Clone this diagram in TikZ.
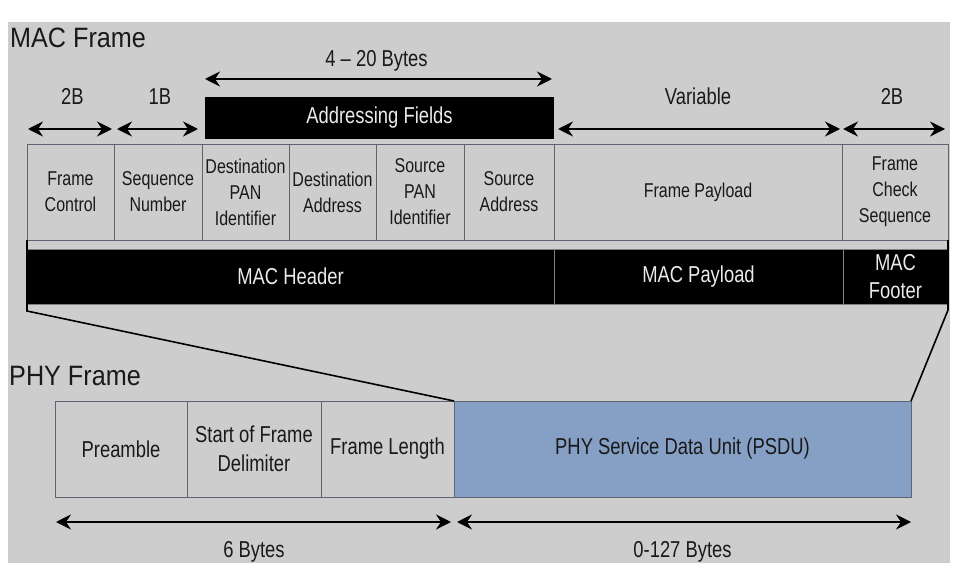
\documentclass[tikz,border=0pt]{standalone}
\usepackage{fontspec}
\setmainfont{Liberation Sans}
\newfontfamily\condfont[FakeStretch=0.8]{Liberation Sans}
\newfontfamily\titlefont[FakeStretch=0.9]{Liberation Sans}
\usetikzlibrary{calc,arrows.meta,positioning}

\definecolor{bggray}{RGB}{205,205,205}
\definecolor{cellline}{RGB}{95,100,115}
\definecolor{psdublue}{RGB}{134,160,197}
\definecolor{txtgray}{RGB}{25,25,25}

\begin{document}
\begin{tikzpicture}[x=1pt,y=1pt,yscale=-1,xscale=1,
  cell/.style = {draw=cellline, line width=0.9pt, inner sep=0pt, outer sep=0pt,
    minimum height=96pt, align=center, text=txtgray},
  mac/.style = {cell, font=\condfont\fontsize{20}{26}\selectfont},
  phy/.style = {cell, font=\condfont\fontsize{23}{29}\selectfont},
  bar/.style = {fill=black, draw=gray, line width=0.8pt, inner sep=0pt,
    outer sep=0pt, minimum height=55pt, align=center, text=white!92!black,
    font=\condfont\fontsize{23}{28}\selectfont},
  dim/.style = {{Stealth[length=15pt,width=15pt,inset=5pt]}-{Stealth[length=15pt,width=15pt,inset=5pt]},
    line width=2.2pt},
  lbl/.style = {text=txtgray, font=\condfont\fontsize{23}{28}\selectfont,
    inner sep=0pt, anchor=base},
  title/.style = {text=txtgray, font=\titlefont\fontsize{28}{32}\selectfont,
    inner sep=0pt, anchor=base west},
  zoomline/.style = {draw=black, line width=1.6pt}]

  \useasboundingbox (0,0) rectangle (961,572);
  \fill[bggray] (8,22) rectangle (950,563);

  % MAC frame fields
  \node[title] (mactitle) at (10,48) {MAC Frame};
  \node[mac, minimum width=87pt, anchor=north west] (fc) at (27,144) {Frame\\Control};
  \node[mac, minimum width=88pt, right=0pt of fc] (sn) {Sequence\\Number};
  \node[mac, minimum width=87pt, right=0pt of sn] (dp) {Destination\\PAN\\Identifier};
  \node[mac, minimum width=87pt, right=0pt of dp] (da) {Destination\\Address};
  \node[mac, minimum width=88pt, right=0pt of da] (sp) {Source\\PAN\\Identifier};
  \node[mac, minimum width=90pt, right=0pt of sp] (sa) {Source\\Address};
  \node[mac, minimum width=288pt, right=0pt of sa] (fp) {Frame Payload};
  \node[mac, minimum width=106pt, right=0pt of fp] (fcs) {Frame\\Check\\Sequence};

  \node[bar, draw=none, minimum height=42pt, minimum width=349pt, anchor=south west]
    (addr) at ($(dp.north west)+(3,-5)$) {Addressing Fields};

  % header / payload / footer
  \node[bar, minimum width=527pt, anchor=north west] (hdr) at (27,249) {MAC Header};
  \node[bar, minimum width=289pt, right=0pt of hdr] (pay) {MAC Payload};
  \node[bar, minimum width=105pt, right=0pt of pay] (foot) {MAC\\Footer};

  % sizes above the MAC frame
  \draw[dim] ($(fc.north west)+(1,-15)$) -- ($(fc.north east)+(-2,-15)$);
  \draw[dim] ($(sn.north west)+(3,-15)$) -- ($(sn.north east)+(-4,-15)$);
  \draw[dim] ($(addr.north west)+(0,-18)$) -- ($(addr.north east)+(-2,-18)$);
  \draw[dim] ($(fp.north west)+(4,-15)$) -- ($(fp.north east)+(-2,-15)$);
  \draw[dim] ($(fcs.north west)+(1,-15)$) -- ($(fcs.north east)+(-3,-15)$);
  \node[lbl] (l2b) at ($(fc.north)+(2,-39)$) {2B};
  \node[lbl] (l1b) at ($(sn.north)+(2,-39)$) {1B};
  \node[lbl] (laddr) at ($(addr.north)+(-3,-30)$) {4 – 20 Bytes};
  \node[lbl] (lvar) at ($(fp.north)+(0,-39)$) {Variable};
  \node[lbl] (lfcs) at ($(fcs.north)+(-3,-39)$) {2B};

  % PHY frame
  \node[title] (phytitle) at (9,385) {PHY Frame};
  \node[phy, minimum width=132pt, anchor=north west] (pre) at (55,401) {Preamble};
  \node[phy, minimum width=134pt, right=0pt of pre] (sfd) {Start of Frame\\Delimiter};
  \node[phy, minimum width=133pt, right=0pt of sfd] (flen) {Frame Length};
  \node[phy, fill=psdublue, minimum width=457pt, right=0pt of flen] (psdu) {PHY Service Data Unit (PSDU)};

  % MAC frame goes into the PSDU
  \draw[zoomline] (fc.south west) -- ($(hdr.south west)+(0,7)$) -- (psdu.north west);
  \draw[zoomline] (fcs.south east) -- ($(foot.south east)+(0,6)$) -- (psdu.north east);

  \draw[dim] ($(pre.south west)+(1,25)$) -- ($(flen.south east)+(-3,25)$);
  \draw[dim] ($(psdu.south west)+(3,25)$) -- ($(psdu.south east)+(0,25)$);
  \node[lbl] (l6) at ($(sfd.south)+(0,60)$) {6 Bytes};
  \node[lbl] (l127) at ($(psdu.south)+(0,60)$) {0-127 Bytes};
\end{tikzpicture}
\end{document}
